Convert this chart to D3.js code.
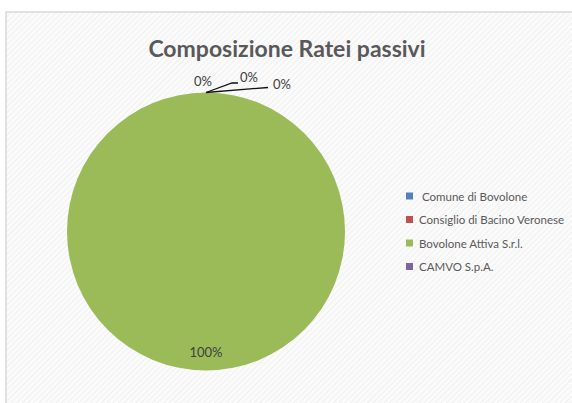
<!DOCTYPE html>
<html><head><meta charset="utf-8">
<script src="https://cdn.jsdelivr.net/npm/d3@7/dist/d3.min.js"></script>
<style>html,body{margin:0;padding:0;background:#fff;}svg{display:block;}</style>
</head><body>
<svg id="chart" width="572" height="403"></svg>
<script>
const title = "Composizione Ratei passivi";
const categories = ["Comune di Bovolone", "Consiglio di Bacino Veronese", "Bovolone Attiva S.r.l.", "CAMVO S.p.A."];
const values = [0, 0, 100, 0];
const colors = ["#4F81BD", "#C0504D", "#9BBB59", "#8064A2"];

const svg = d3.select("#chart");
const W = 572, H = 403;
const font = "Lato, 'Open Sans', sans-serif";

// background pattern
const defs = svg.append("defs");
const pat = defs.append("pattern").attr("id","hatch").attr("patternUnits","userSpaceOnUse")
  .attr("width",4).attr("height",4).attr("patternTransform","rotate(45)");
pat.append("rect").attr("width",4).attr("height",4).attr("fill","#fbfbfb");
pat.append("line").attr("x1",0).attr("y1",0).attr("x2",0).attr("y2",4)
  .attr("stroke","#ededed").attr("stroke-width",1.5);

svg.append("rect").attr("x",6).attr("y",12).attr("width",W).attr("height",H)
  .attr("fill","url(#hatch)").attr("stroke","#d9d9d9").attr("stroke-width",1.5);

svg.append("text").attr("x",287).attr("y",57).attr("text-anchor","middle")
  .attr("font-family",font).attr("font-weight","bold").attr("font-size",23)
  .attr("fill","#595959").text(title);

const cx = 206, cy = 231.5, r = 139;
const pie = d3.pie().sort(null).value(d => d)(values);
const arc = d3.arc().innerRadius(0).outerRadius(r);
const g = svg.append("g").attr("transform",`translate(${cx},${cy})`);
g.selectAll("path").data(pie).join("path")
  .attr("d", arc).attr("fill", (d,i) => colors[i]);

const total = d3.sum(values);
const fmt = v => Math.round(v / total * 100) + "%";

const edge = d => { const a = (d.startAngle + d.endAngle)/2; return [r*Math.sin(a), -r*Math.cos(a)]; };

// label placement offsets for the zero slices (layout only)
const zeroLayout = [
  {dx:-3, dy:-12, leader:null},
  {dx:43, dy:-16, leader:[[26,-9.5],[32,-9.5]]},
  {dx:76, dy:-9, leader:[[62,-5]]}
];
let zi = 0;
pie.forEach((d,i) => {
  if (values[i] === 0) {
    const L = zeroLayout[zi++];
    const [ex, ey] = edge(d);
    if (L.leader) {
      const pts = [[ex,ey]].concat(L.leader.map(p => [ex+p[0], ey+p[1]]));
      g.append("path").attr("d", d3.line()(pts)).attr("fill","none")
        .attr("stroke","#111").attr("stroke-width",1.3);
    }
    g.append("text").attr("x", ex + L.dx).attr("y", ey + L.dy)
      .attr("text-anchor","middle").attr("dominant-baseline","central")
      .attr("font-family",font).attr("font-size",13).attr("fill","#404040")
      .text(fmt(values[i]));
  } else {
    const a = (d.startAngle + d.endAngle)/2;
    g.append("text").attr("x", r*0.87*Math.sin(a)).attr("y", -r*0.87*Math.cos(a))
      .attr("text-anchor","middle").attr("dominant-baseline","central")
      .attr("font-family",font).attr("font-size",13).attr("fill","#404040")
      .text(fmt(values[i]));
  }
});

// legend
const leg = svg.append("g").attr("transform","translate(406,196)");
const items = leg.selectAll("g").data(categories).join("g")
  .attr("transform",(d,i)=>`translate(0,${i*23.5})`);
items.append("rect").attr("x",0).attr("y",-3.5).attr("width",7).attr("height",7)
  .attr("fill",(d,i)=>colors[i]);
items.append("text").attr("x",(d,i)=> i===0 ? 16 : 13).attr("y",0)
  .attr("dominant-baseline","central").attr("font-family",font)
  .attr("font-size",11.5).attr("fill","#595959").text(d=>d);
</script>
</body></html>
